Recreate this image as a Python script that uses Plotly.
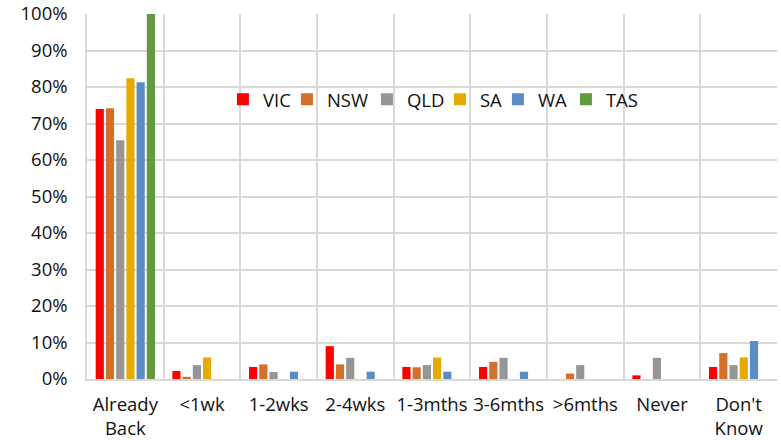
import plotly.graph_objects as go

categories = ["Already<br>Back", "<1wk", "1-2wks", "2-4wks", "1-3mths", "3-6mths", ">6mths", "Never", "Don't<br>Know"]
VIC = [74, 2.2, 3.3, 9.0, 3.3, 3.3, 0, 1.0, 3.3]
NSW = [74.2, 0.6, 4.0, 4.0, 3.2, 4.7, 1.5, 0, 7.1]
QLD = [65.4, 3.8, 1.9, 5.8, 3.8, 5.8, 3.8, 5.8, 3.8]
SA = [82.4, 5.9, 0, 0, 5.9, 0, 0, 0, 5.9]
WA = [81.3, 0, 2.0, 2.0, 2.0, 2.0, 0, 0, 10.4]
TAS = [100, 0, 0, 0, 0, 0, 0, 0, 0]

# name, values, colour, legend entry width (px)
series = [("VIC", VIC, "#ff0000", 19), ("NSW", NSW, "#d46f2c", 35), ("QLD", QLD, "#969696", 28),
          ("SA", SA, "#e5ab00", 13), ("WA", WA, "#5a8ec3", 23), ("TAS", TAS, "#64993f", 40)]

fig = go.Figure()
for name, vals, col, lw in series:
    fig.add_trace(go.Bar(x=categories, y=vals, name=name, marker_color=col,
                         marker_line_width=0, legendwidth=lw))

font = "'Open Sans', sans-serif"
fig.update_layout(
    width=781, height=440,
    margin=dict(l=87, r=4, t=14, b=61, autoexpand=False),
    paper_bgcolor="white", plot_bgcolor="white",
    barmode="group", bargap=0.2, bargroupgap=0.2,
    font=dict(family=font, size=18.5, color="#111111"),
    legend=dict(orientation="h", x=0.197, y=0.765, xanchor="left", yanchor="middle",
                bgcolor="rgba(0,0,0,0)", font=dict(size=18.5), itemwidth=30,
                tracegroupgap=0, entrywidthmode="pixels"),
    showlegend=True,
)
fig.update_xaxes(tickson="boundaries", showgrid=True, gridcolor="#d9d9d9", gridwidth=1.5,
                 ticks="", showline=True, linecolor="#d9d9d9", linewidth=1.5,
                 automargin=False, ticklabelstandoff=8, tickangle=0)
fig.update_yaxes(range=[0, 100], dtick=10, ticksuffix="%", showgrid=True,
                 gridcolor="#d9d9d9", gridwidth=1.5, showline=True, linecolor="#d9d9d9",
                 linewidth=1.5, zeroline=False, ticks="", automargin=False,
                 ticklabelstandoff=14)

fig.write_html("out.html", config={"displayModeBar": False},
               post_script="document.body.style.margin='0px';")
